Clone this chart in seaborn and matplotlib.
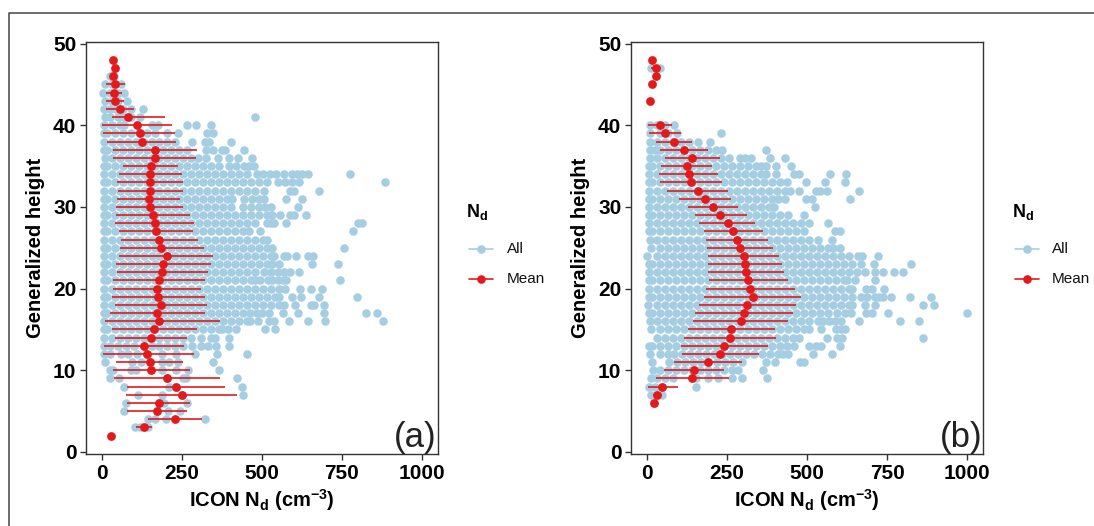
import numpy as np
import pandas as pd
import seaborn as sns
import matplotlib
matplotlib.use("Agg")
import matplotlib.pyplot as plt
from matplotlib.lines import Line2D

sns.set_theme(style="white")
plt.rcParams['font.family'] = ['Liberation Sans', 'DejaVu Sans']
plt.rcParams['mathtext.fontset'] = 'custom'
plt.rcParams['mathtext.rm'] = 'Liberation Sans'
plt.rcParams['mathtext.bf'] = 'Liberation Sans:bold'
plt.rcParams['mathtext.it'] = 'Liberation Sans:italic'

BLUE = "#A6CEE3"
RED = "#E31A1C"
DARK = "#333333"

# ---- panel (a) means and spread
heights_a = list(range(2, 49))
mean_a = [27,131,229,172,179,249,232,204,153,149,141,130,153,163,179,173,186,176,172,177,189,191,202,186,180,170,165,161,149,146,151,149,151,152,165,165,125,118,110,81,57,41,37,42,33,41,36]
lo_a = [None,106,145,77,79,76,79,37,33,44,3,5,41,30,9,24,42,31,35,34,48,45,53,55,59,54,42,45,44,48,49,46,54,66,35,34,16,4,0,31,14,13,12,13,None,None,None]
hi_a = [None,158,313,266,276,422,386,370,274,254,287,256,265,298,369,323,330,321,309,321,333,340,349,318,301,286,288,276,255,243,253,253,250,239,295,296,233,230,219,196,100,70,62,72,None,None,None]

# ---- panel (b) means and spread
heights_b = [6,7,8,9,10,11,12,13,14,15,16,17,18,19,20,21,22,23,24,25,26,27,28,29,30,31,32,33,34,35,36,37,38,39,40,43,45,46,47,48]
mean_b = [21,31,46,140,147,192,229,242,258,262,294,304,313,331,323,317,308,307,302,290,281,270,252,229,205,180,158,138,130,124,142,116,85,56,40,8,17,29,27,17]
lo_b = [None,18,2,27,52,84,108,106,115,127,145,151,162,179,185,193,190,192,192,187,183,177,164,149,128,99,64,42,38,43,56,42,29,5,2,None,None,None,11,None]
hi_b = [None,48,98,255,242,298,349,379,403,400,441,455,466,480,461,441,428,423,411,395,379,363,339,312,283,262,254,234,222,203,229,190,140,107,78,None,None,None,43,None]

# ---- individual droplet-number readings per generalized height
all_a = {
3: [103,120,145],
4: [145,166,199,322],
5: [68,172,208,243],
6: [74,179,194,265],
7: [114,188,249,440],
8: [70,210,232,437],
9: [24,54,204,254,263,424],
10: [26,35,90,106,153,188,232,270,366],
11: [9,95,123,149,188,210,238,347],
12: [5,25,60,80,110,141,188,232,290,361,453],
13: [5,25,50,75,100,130,155,180,205,230,255,281,309,331,358,399],
14: [5,30,55,80,105,130,155,180,205,230,255,280,310,342,355,399],
15: [5,17,42,67,92,117,142,167,192,217,242,267,292,317,342,367,375,394,418,511,541],
16: [5,30,55,80,105,130,155,180,205,230,255,280,305,330,355,380,405,430,455,462,487,522,539,586,646,697,878],
17: [5,17,42,67,92,117,142,167,192,217,242,267,292,317,342,367,392,417,442,462,484,500,524,567,613,694,826,860],
18: [5,30,55,80,105,130,155,180,205,230,255,280,305,330,355,380,405,430,455,480,505,530,555,570,605,654,665,694],
19: [5,17,42,67,92,117,142,167,192,217,242,267,292,317,342,367,392,417,442,467,492,517,542,555,596,623,679,797],
20: [5,30,55,80,105,130,155,180,205,230,255,280,305,330,355,380,405,430,455,480,505,530,555,572,619,654,688],
21: [5,17,42,67,92,117,142,167,192,217,242,267,292,317,342,367,392,417,442,467,478,495,520,533,550,565,577,745],
22: [5,30,55,80,105,130,155,180,205,230,255,280,305,330,355,380,405,430,455,480,506,528,550,570,588,618],
23: [5,17,42,67,92,117,142,167,192,217,242,267,292,317,342,367,392,417,442,467,492,517,533,555,657,740],
24: [5,30,55,80,105,130,155,180,205,230,255,280,305,330,355,380,405,430,455,480,505,530,539,570,580,607,646,661],
25: [5,17,42,67,92,117,142,167,192,217,242,267,292,317,342,367,392,417,442,467,492,517,533,756],
26: [5,30,55,80,105,130,155,180,205,230,255,280,305,330,355,380,405,430,455,480,505,517],
27: [5,17,42,67,92,117,142,167,192,217,242,267,292,317,342,367,392,417,442,459,495,784],
28: [5,30,55,80,105,130,155,180,205,230,255,280,305,330,355,380,405,430,455,478,517,530,539,577,802,813],
29: [5,17,42,67,92,117,142,167,192,217,242,267,292,317,342,367,392,417,442,467,492,517,533,557,588,602,637],
30: [5,30,55,80,105,130,155,180,205,230,255,280,305,330,355,380,405,440,465,490,510,528,615],
31: [5,17,42,67,92,117,142,167,192,217,242,267,292,317,342,367,392,407,445,470,490,506,577,627],
32: [5,30,55,80,105,130,155,180,205,230,255,280,305,330,355,380,405,430,455,480,506,588,600,679],
33: [5,17,42,67,92,117,142,167,192,217,242,267,292,317,342,367,392,417,442,467,492,517,550,572,594,618,885],
34: [5,30,55,80,105,130,155,180,205,230,255,280,305,330,355,380,405,430,455,484,504,526,544,570,594,610,626,645,775],
35: [5,17,42,67,92,117,142,167,192,217,242,267,292,317,342,367,396,420,446,460,475],
36: [8,30,55,80,105,130,155,180,205,230,255,280,300,325,364,396,426,469],
37: [5,17,42,67,92,117,142,167,192,217,242,267,325,347,375,385,446],
38: [5,30,55,80,105,130,155,180,205,230,281,322,336,405],
39: [5,17,42,67,92,117,142,167,205,238,330,347],
40: [5,30,55,70,155,174,265,295,340],
41: [8,25,50,70,92,120,480],
42: [5,25,45,65,90,127],
43: [8,30,50,78],
44: [3,25,50,70],
45: [8,30,60],
46: [25,38],
}

all_b = {
6: [21],
7: [11,31,46],
8: [5,25,46,152],
9: [13,30,55,80,140,154,190,221,267,297,375],
10: [18,40,65,90,115,140,165,190,215,240,265,284,363],
11: [16,70,95,120,145,170,192,220,245,270,298,371,401,479,490],
12: [10,40,65,85,110,135,160,185,210,235,260,285,310,335,360,385,410,425,441,520,578],
13: [5,17,42,67,92,117,142,167,192,217,242,267,292,317,342,367,392,417,436,460,506,528,544,602],
14: [30,55,80,105,130,155,180,205,230,255,280,305,330,355,380,405,430,455,474,561,593,610,862],
15: [13,42,67,92,117,142,167,192,217,242,267,292,317,342,367,392,417,442,467,492,506,544,590,605,620],
16: [8,30,55,80,105,130,155,180,205,230,255,280,305,330,355,380,405,430,455,480,505,534,550,570,588,607,664,790,849],
17: [5,17,42,67,92,117,142,167,192,217,242,267,292,317,342,367,392,417,442,467,492,517,542,567,593,620,637,685,704,754,1000],
18: [2,30,55,80,105,130,155,180,205,230,255,280,305,330,355,380,405,430,455,480,505,530,555,580,605,630,642,680,712,862,898],
19: [5,17,42,67,92,117,142,167,192,217,242,267,292,317,342,367,392,417,442,467,492,517,542,567,592,617,642,669,688,712,725,739,764,821,888],
20: [5,30,55,80,105,130,155,180,205,230,255,280,305,330,355,380,405,430,455,480,505,530,555,580,605,630,642,685,702,740],
21: [5,17,42,67,92,117,142,167,192,217,242,267,292,317,342,367,392,417,442,467,492,517,542,567,592,617,626,651,712],
22: [5,30,55,80,105,130,155,180,205,230,255,280,305,330,355,380,405,430,455,480,505,530,555,580,605,630,655,680,712,736,772,799],
23: [5,17,42,67,92,117,142,167,192,217,242,267,292,317,342,367,392,417,442,467,492,517,542,567,592,617,642,669,709,826],
24: [0,30,55,80,105,130,155,180,205,230,255,280,305,330,355,380,405,430,455,480,505,530,555,580,605,631,658,671,723],
25: [12,42,67,92,117,142,167,192,217,242,267,292,317,342,367,392,417,442,467,492,517,542,567,582,604],
26: [8,30,55,80,105,130,155,180,205,230,255,280,305,330,355,380,405,430,455,480,505,534,579],
27: [5,17,42,67,92,117,142,167,192,217,242,267,292,317,342,367,392,417,442,467,490,588,604],
28: [5,30,55,80,105,130,155,180,205,230,255,280,305,330,355,380,405,430,455,480,506,566],
29: [5,17,42,67,92,117,142,167,192,217,242,267,292,317,342,367,392,417,441,492],
30: [5,30,55,80,105,130,155,180,205,230,255,280,305,330,355,380,398,525],
31: [5,17,42,67,92,117,142,167,192,217,242,267,292,317,342,367,392,409,431,496,517,634],
32: [5,30,55,80,105,130,155,180,205,230,255,280,305,330,355,380,405,431,447,474,528,540,563,663],
33: [5,17,42,67,92,117,142,167,192,217,242,267,292,317,342,367,392,417,436,496,557,620],
34: [5,30,55,80,105,130,155,180,205,230,255,280,305,330,355,371,403,458,474,572,621],
35: [5,17,42,67,92,117,142,167,192,217,242,267,292,317,342,355,371,403,450],
36: [8,30,55,80,105,130,155,180,205,230,255,290,306,325,385,431],
37: [8,25,42,67,92,117,142,167,192,217,235,373],
38: [8,30,55,80,105,130,160,197],
39: [10,42,67,94,231],
40: [8,30,56,84],
47: [11,40],
}

tick_x = [0, 250, 500, 750, 1000]
tick_y = [0, 10, 20, 30, 40, 50]
panels = [("(a)", heights_a, mean_a, lo_a, hi_a, all_a),
          ("(b)", heights_b, mean_b, lo_b, hi_b, all_b)]

W, H = 1094, 526
fig = plt.figure(figsize=(W / 100, H / 100), dpi=100, facecolor="white")
boxes = [(86, 437.5, 41.5, 454), (631, 983, 41.5, 454)]
legend_x = [(469, 493, 466, 507), (1015, 1039, 1012, 1052)]


def px_x(x):
    return x / W


def px_y(y):
    return 1 - y / H


for (tag, hs, mean, lo, hi, allp), (l, r, t, b), (k0, k1, tx, lx) in zip(panels, boxes, legend_x):
    ax = fig.add_axes([l / W, 1 - b / H, (r - l) / W, (b - t) / H])
    all_df = pd.DataFrame([(v, h) for h, vals in allp.items() for v in vals], columns=["nd", "height"])
    mean_df = pd.DataFrame({"nd": mean, "height": hs})
    sns.scatterplot(data=all_df, x="nd", y="height", color=BLUE, s=38, linewidth=0, ax=ax, zorder=2, clip_on=False)
    for h, a, c in zip(hs, lo, hi):
        if a is not None:
            ax.hlines(h, a, c, color=RED, lw=1.2, zorder=3)
    sns.scatterplot(data=mean_df, x="nd", y="height", color=RED, s=40, linewidth=0, ax=ax, zorder=4)
    ax.set_xlim(-50, 1050)
    ax.set_ylim(-0.25, 50.25)
    ax.set_xticks(tick_x)
    ax.set_yticks(tick_y)
    ax.tick_params(axis="both", length=4, width=1, color=DARK, labelsize=15, pad=3, bottom=True, left=True)
    for lab in ax.get_xticklabels() + ax.get_yticklabels():
        lab.set_fontweight("bold")
        lab.set_color("black")
    for s in ax.spines.values():
        s.set_visible(True)
        s.set_color(DARK)
        s.set_linewidth(1.0)
    ax.set_xlabel(r"ICON $\mathbf{N_d}$ $\mathbf{(cm^{-3})}$", fontsize=14.5, fontweight="bold", labelpad=3, color="black")
    ax.set_ylabel("Generalized height", fontsize=14.5, fontweight="bold", labelpad=6, color="black")
    ax.text(0.998, 0.0, tag, transform=ax.transAxes, ha="right", va="bottom", fontsize=25, color="#222222", clip_on=False)

    fig.text(px_x(tx), px_y(212), r"$\mathbf{N_d}$", fontsize=13, fontweight="bold", ha="left", va="center", color="black")
    fig.add_artist(Line2D([px_x(k0), px_x(k1)], [px_y(249)] * 2, color=BLUE, lw=1.2, marker=None))
    fig.add_artist(Line2D([px_x((k0 + k1) / 2)], [px_y(249)], color=BLUE, marker="o", ms=6.2, mew=0))
    fig.add_artist(Line2D([px_x(k0), px_x(k1)], [px_y(279)] * 2, color=RED, lw=1.2))
    fig.add_artist(Line2D([px_x((k0 + k1) / 2)], [px_y(279)], color=RED, marker="o", ms=6.2, mew=0))
    fig.text(px_x(lx), px_y(249), "All", fontsize=11, ha="left", va="center", color="#111111")
    fig.text(px_x(lx), px_y(279), "Mean", fontsize=11, ha="left", va="center", color="#111111")

# outer frame of the composed figure
fig.add_artist(Line2D([px_x(9), px_x(9), 1.0], [0.0, px_y(13), px_y(13)], color="#444444", lw=1.1))

fig.savefig("out.png", dpi=100, facecolor="white")
